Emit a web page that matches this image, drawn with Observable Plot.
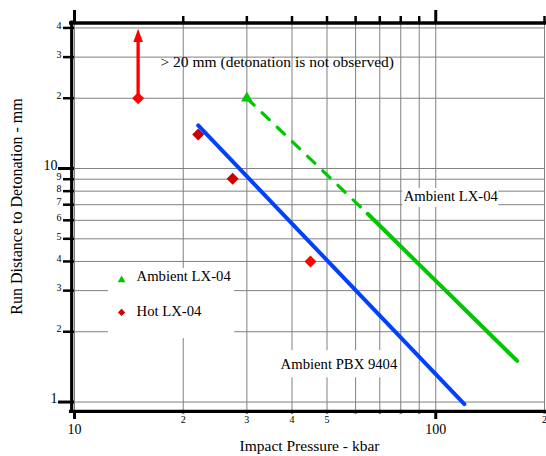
<!DOCTYPE html>
<html>
<head>
<meta charset="utf-8">
<script src="https://cdn.jsdelivr.net/npm/d3@7"></script>
<script src="https://cdn.jsdelivr.net/npm/@observablehq/plot@0.6"></script>
<style>
  html, body { margin: 0; padding: 0; background: #fff; }
</style>
</head>
<body>
<div id="chart"></div>
<script>
// ---- Data (impact pressure in kbar, run distance in mm) ----
// Ambient PBX 9404 Pop-plot line
const pbxPressure = [22, 120];
const pbxRun = [15.3, 0.98];
// Ambient LX-04: extrapolated (dashed) and measured (solid) segments
const lx04DashPressure = [30, 64.8];
const lx04DashRun = [20, 6.4];
const lx04SolidPressure = [64.8, 168];
const lx04SolidRun = [6.4, 1.5];
// Ambient LX-04 point (no detonation observed)
const ambientPressure = [30];
const ambientRun = [20];
// Hot LX-04 points
const hotPressure = [15, 22, 27.4, 45];
const hotRun = [20, 14, 9.05, 4];
// "> 20 mm" arrow
const arrowPressure = [15];
const arrowFrom = [20];
const arrowTo = [39.7];
// Text annotations
const annotText = ["> 20 mm (detonation is not observed)", "Ambient LX-04", "Ambient PBX 9404"];
const annotPressure = [17.3, 81.5, 37.2];
const annotRun = [28.7, 7.59, 1.447];
// Legend
const legendText = ["Ambient LX-04", "Hot LX-04"];
const legendPressure = [13.5, 13.5];
const legendRun = [3.33, 2.42];
const legendTextPressure = [14.85, 14.85];
const legendTextRun = [3.45, 2.44];
// Ticks
const xMajor = [10, 100];
const xMinor = [20, 30, 40, 50, 60, 70, 80, 90, 200];
const yMajor = [1, 10];
const yMinor = [2, 3, 4, 5, 6, 7, 8, 9, 20, 30, 40];
const xGrid = [10, 20, 30, 40, 50, 60, 70, 80, 90, 100, 200];
const yGrid = [1, 2, 3, 4, 5, 6, 7, 8, 9, 10, 20, 30, 40];
// Label occluding (white) boxes
const boxX1 = [12.42, 81.0, 36.5];
const boxX2 = [27.75, 149.4, 79.0];
const boxY1 = [1.87, 6.81, 1.27];
const boxY2 = [3.73, 8.21, 1.66];

// ---- Build tables ----
const zip2 = (xs, ys) => xs.map((x, i) => ({x, y: ys[i]}));
const pbx = zip2(pbxPressure, pbxRun);
const lxDash = zip2(lx04DashPressure, lx04DashRun);
const lxSolid = zip2(lx04SolidPressure, lx04SolidRun);
const ambient = zip2(ambientPressure, ambientRun);
const hot = zip2(hotPressure, hotRun);
const arrow = arrowPressure.map((x, i) => ({x, from: arrowFrom[i], to: arrowTo[i]}));
const annots = annotText.map((t, i) => ({t, x: annotPressure[i], y: annotRun[i]}));
const boxes = boxX1.map((x1, i) => ({x1, x2: boxX2[i], y1: boxY1[i], y2: boxY2[i]}));
const legendMarks = zip2(legendPressure, legendRun);
const legendLabels = legendText.map((t, i) => ({t, x: legendTextPressure[i], y: legendTextRun[i]}));

const XDOM = [10, 200];
const YDOM = [0.92, 42.2];
const GREEN = "#00c800", BLUE = "#0040ff", RED = "#ff0000", DARKRED = "#cc0000";
const FONT = "Liberation Serif";

const chart = Plot.plot({
  width: 546,
  height: 456,
  marginTop: 22,
  marginRight: 2,
  marginBottom: 46,
  marginLeft: 74,
  style: {fontFamily: FONT, background: "white", color: "black", overflow: "visible"},
  x: {type: "log", domain: XDOM},
  y: {type: "log", domain: YDOM},
  marks: [
    Plot.gridX(xGrid, {stroke: "#808080", strokeOpacity: 1, strokeWidth: 1}),
    Plot.gridY(yGrid, {stroke: "#808080", strokeOpacity: 1, strokeWidth: 1}),
    Plot.rect(boxes, {x1: "x1", x2: "x2", y1: "y1", y2: "y2", fill: "white"}),
    // arrow
    Plot.ruleX(arrow, {x: "x", y1: "from", y2: d => d.to / 1.1, stroke: RED, strokeWidth: 3.3}),
    Plot.vector(arrow, {x: "x", y: "to", shape: "spike", anchor: "end", length: 13.4, r: 4.8, rotate: 0, fill: RED, stroke: "none"}),
    // Hot LX-04
    Plot.dot(hot, {x: "x", y: "y", symbol: "diamond2", r: 5.4, fill: (d, i) => (i === 1 || i === 2) ? DARKRED : RED, stroke: "none"}),
    // lines
    Plot.line(pbx, {x: "x", y: "y", stroke: BLUE, strokeWidth: 4}),
    Plot.line(lxDash, {x: "x", y: "y", stroke: GREEN, strokeWidth: 3.2, strokeDasharray: "10,11"}),
    Plot.line(lxSolid, {x: "x", y: "y", stroke: GREEN, strokeWidth: 4}),
    Plot.dot(ambient, {x: "x", y: "y", symbol: "triangle", r: 4.3, fill: GREEN, stroke: "none"}),
    // annotations
    Plot.text(annots, {x: "x", y: "y", text: "t", textAnchor: "start", fontSize: (d, i) => i === 0 ? 15.5 : 14.7}),
    // legend
    Plot.dot(legendMarks, {x: "x", y: "y", symbol: (d, i) => i === 0 ? "triangle" : "diamond2", r: (d, i) => i === 0 ? 3.3 : 4.2, fill: (d, i) => i === 0 ? GREEN : DARKRED, stroke: "none"}),
    Plot.text(legendLabels, {x: "x", y: "y", text: "t", textAnchor: "start", fontSize: 14.7}),
    // axis lines
    Plot.ruleX([XDOM[0]], {stroke: "black", strokeWidth: 3.2, dx: -2.8, insetTop: -1.5, insetBottom: -2}),
    Plot.ruleY([YDOM[0]], {stroke: "black", strokeWidth: 3.2, dy: 0.8, insetLeft: -5, insetRight: -2}),
    Plot.ruleY([YDOM[1]], {stroke: "black", strokeWidth: 3.4, dy: 0.5, insetLeft: -5, insetRight: -2}),
    // ticks
    Plot.axisX(xMajor, {anchor: "bottom", tickSize: 9, tickPadding: 5, strokeWidth: 3, fontSize: 14, tickFormat: d => `${d}`, label: null}),
    Plot.axisX(xMinor, {anchor: "bottom", tickSize: 3.5, tickPadding: 2, strokeWidth: 2.5, fontSize: 10, tickFormat: d => `${d < 100 ? d / 10 : d / 100}`, label: null}),
    Plot.axisX(xMajor, {anchor: "top", tickSize: 13, strokeWidth: 3, tickFormat: () => "", label: null}),
    Plot.axisX(xMinor, {anchor: "top", tickSize: 7, strokeWidth: 2.5, tickFormat: () => "", label: null}),
    Plot.axisY(yMajor, {anchor: "left", tickSize: 16, strokeWidth: 3, tickFormat: () => "", label: null}),
    Plot.axisY(yMinor, {anchor: "left", tickSize: 11, strokeWidth: 2.5, tickFormat: () => "", label: null}),
    Plot.text(yMajor, {y: d => d, text: d => `${d}`, frameAnchor: "left", dx: -17, dy: -3.5, textAnchor: "end", fontSize: 14}),
    Plot.text(yMinor, {y: d => d, text: d => `${d < 10 ? d : d / 10}`, frameAnchor: "left", dx: -13, dy: -2.5, textAnchor: "end", fontSize: 10}),
    // axis titles
    Plot.text(["Impact Pressure - kbar"], {text: d => d, frameAnchor: "bottom", textAnchor: "middle", dy: 40, fontSize: 15.5}),
    Plot.text(["Run Distance to Detonation - mm"], {text: d => d, frameAnchor: "left", textAnchor: "middle", rotate: -90, dx: -58, dy: -10, fontSize: 16})
  ]
});
document.getElementById("chart").appendChild(chart);
</script>
</body>
</html>
